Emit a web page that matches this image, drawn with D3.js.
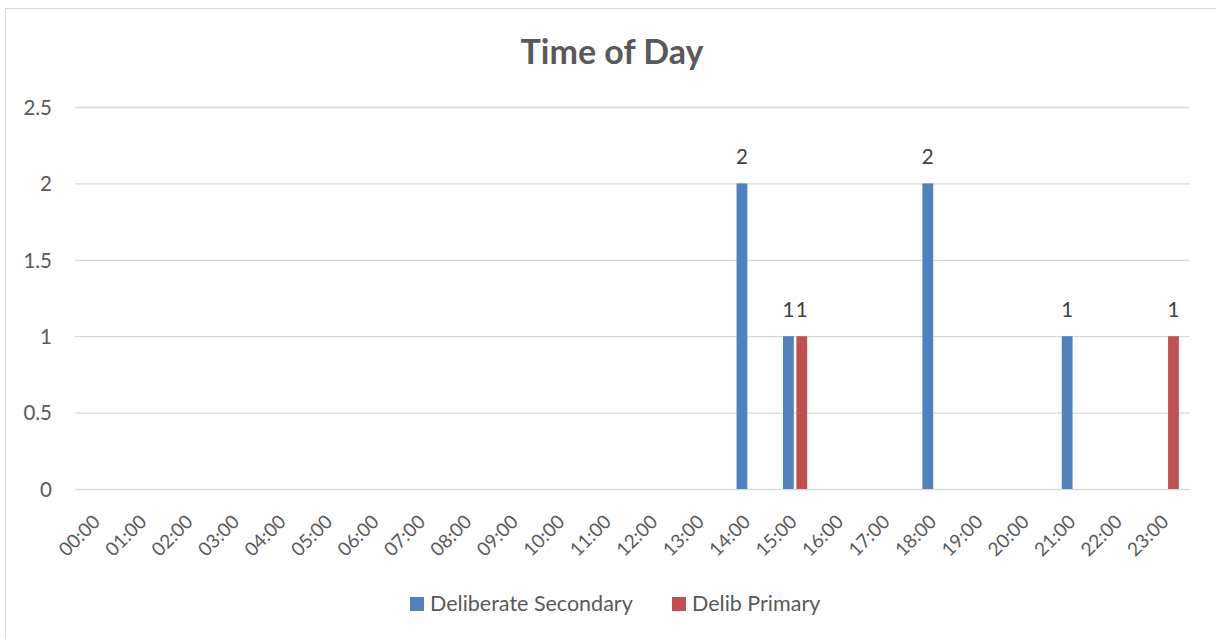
<!DOCTYPE html>
<html><head><meta charset="utf-8">
<script src="https://cdn.jsdelivr.net/npm/d3@7"></script>
<style>body{margin:0;background:#fff}svg{display:block}</style>
</head><body>
<script>
const categories = ["00:00","01:00","02:00","03:00","04:00","05:00","06:00","07:00","08:00","09:00","10:00","11:00","12:00","13:00","14:00","15:00","16:00","17:00","18:00","19:00","20:00","21:00","22:00","23:00"];
const deliberateSecondary = [0,0,0,0,0,0,0,0,0,0,0,0,0,0,2,1,0,0,2,0,0,1,0,0];
const delibPrimary = [0,0,0,0,0,0,0,0,0,0,0,0,0,0,0,1,0,0,0,0,0,0,0,1];
const seriesNames = ["Deliberate Secondary","Delib Primary"];
const yTicks = [0,0.5,1,1.5,2,2.5];

(function(){
const W=1216,H=639;
const colors=["#4F81BD","#C0504D"];
const font="Lato, 'Open Sans', sans-serif";
const svg=d3.select("body").append("svg").attr("width",W).attr("height",H);
svg.append("rect").attr("x",5.5).attr("y",8.5).attr("width",W+10).attr("height",H+10)
  .attr("fill","#fff").attr("stroke","#d9d9d9").attr("stroke-width",1);

const pl=75,pr=1190,pt=107,pb=489;
const x=d3.scaleBand().domain(categories).range([pl,pr]);
const y=d3.scaleLinear().domain([0,2.5]).range([pb,pt]);

svg.append("text").attr("x",612).attr("y",64).attr("text-anchor","middle")
  .attr("font-family",font).attr("font-weight","bold").attr("font-size",34).attr("fill","#595959").text("Time of Day");

const yAxis=svg.append("g").attr("transform",`translate(${pl},0)`)
  .call(d3.axisLeft(y).tickValues(yTicks).tickSize(-(pr-pl)).tickPadding(23).tickFormat(d=>d));
yAxis.select(".domain").remove();
yAxis.selectAll("line").attr("stroke","#d9d9d9").attr("stroke-width",1.3);
yAxis.selectAll("text").attr("font-family",font).attr("font-size",20.5).attr("fill","#595959").attr("dy","0.36em");

const xAxis=svg.append("g").attr("transform",`translate(0,${pb})`)
  .call(d3.axisBottom(x).tickSize(0).tickPadding(0));
xAxis.select(".domain").remove();
xAxis.selectAll("text").attr("font-family",font).attr("font-size",19).attr("fill","#595959")
  .attr("text-anchor","end").attr("dy",0).attr("y",0)
  .attr("transform","translate(3,34) rotate(-45)");

const barW=10.8, gap=2.6;
const series=[deliberateSecondary,delibPrimary];
series.forEach((vals,si)=>{
  const off = si===0 ? -gap/2-barW : gap/2;
  const g=svg.append("g");
  categories.forEach((c,i)=>{
    const v=vals[i];
    if(!v) return;
    const cx=x(c)+x.bandwidth()/2+off;
    g.append("rect").attr("x",cx).attr("y",y(v)).attr("width",barW).attr("height",y(0)-y(v)).attr("fill",colors[si]);
    g.append("text").attr("x",cx+barW/2).attr("y",y(v)-19).attr("text-anchor","middle")
      .attr("font-family",font).attr("font-size",20.5).attr("fill","#404040").text(v);
  });
});

const legend=svg.append("g");
const lx=[410,672];
seriesNames.forEach((n,i)=>{
  legend.append("rect").attr("x",lx[i]).attr("y",597).attr("width",14).attr("height",14).attr("fill",colors[i]);
  legend.append("text").attr("x",lx[i]+20).attr("y",611).attr("font-family",font).attr("font-size",21.5)
    .attr("fill","#595959").text(n);
});
})();
</script>
</body></html>
